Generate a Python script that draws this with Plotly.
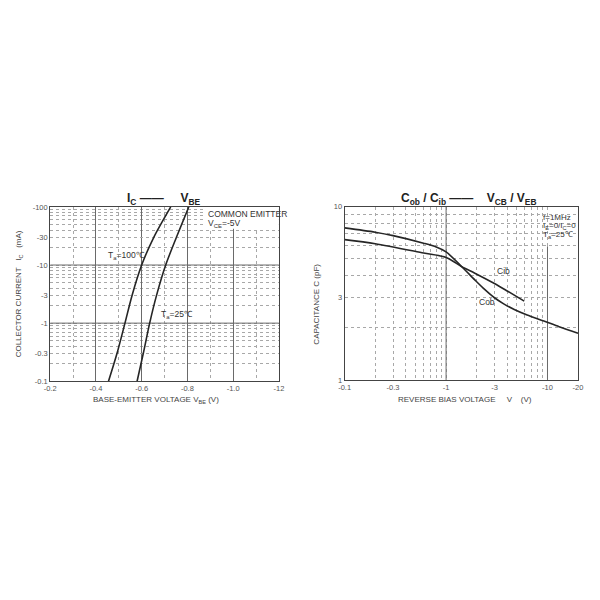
import plotly.graph_objects as go

# ---------------- data: left chart (Ic vs Vbe) ----------------
ic_ma = [0.1, 0.3, 1, 3, 10, 30, 100]                       # |Ic| in mA
vbe_ta100 = [-0.455, -0.492, -0.527, -0.558, -0.600, -0.653, -0.727]
vbe_ta25 = [-0.580, -0.607, -0.635, -0.665, -0.705, -0.752, -0.806]
vbe_ticks = [-0.2, -0.4, -0.6, -0.8, -1.0, -1.2]
vbe_ticklabels = ["-0.2", "-0.4", "-0.6", "-0.8", "-1.0", "-12"]
ic_ticks = [0.1, 0.3, 1, 3, 10, 30, 100]
ic_ticklabels = ["-0.1", "-0.3", "-1", "-3", "-10", "-30", "-100"]

# ---------------- data: right chart (Cob/Cib vs V) ----------------
vr_cob = [0.1, 0.2, 0.3, 0.6, 0.8, 1.0, 1.43, 1.92, 2.4, 3.0, 3.7, 4.7, 6.3, 9.2, 13, 20]
cob_pf = [7.54, 7.12, 6.8, 6.15, 5.85, 5.48, 4.5, 3.78, 3.33, 2.98, 2.75, 2.55, 2.37,
          2.19, 2.03, 1.86]
vr_cib = [0.1, 0.2, 0.6, 1.0, 1.43, 1.92, 3.0, 4.05, 5.9]
cib_pf = [6.45, 6.11, 5.4, 5.09, 4.5, 4.13, 3.6, 3.25, 2.85]
vr_ticks = [0.1, 0.3, 1, 3, 10, 20]
vr_ticklabels = ["-0.1", "-0.3", "-1", "-3", "-10", "-20"]
c_ticks = [1, 3, 10]
c_ticklabels = ["1", "3", "10"]

FONT = "Liberation Sans, Arial, sans-serif"
W = H = 600


def px(x, y):
    return x / W, 1 - y / H


LINE = "#262626"
SOLID = "#6a6a6a"
DOT = "#a8a8a8"

fig = go.Figure()

# ---- left chart: white area behind the legend text, solid grid lines ----
fig.add_trace(go.Scatter(x=[-0.87, -1.2, -1.2, -0.87], y=[42, 42, 100, 100],
                         fill="toself", fillcolor="white", mode="none",
                         hoverinfo="skip", showlegend=False, xaxis="x", yaxis="y"))
for yv in [1, 10]:
    fig.add_trace(go.Scatter(x=[vbe_ticks[0], vbe_ticks[-1]], y=[yv, yv], mode="lines",
                             line=dict(color=SOLID, width=1), hoverinfo="skip",
                             showlegend=False, xaxis="x", yaxis="y"))
fig.add_trace(go.Scatter(x=vbe_ta100, y=ic_ma, mode="lines",
                         line=dict(color=LINE, width=1.6, shape="spline", smoothing=0.8),
                         showlegend=False, xaxis="x", yaxis="y"))
fig.add_trace(go.Scatter(x=vbe_ta25, y=ic_ma, mode="lines",
                         line=dict(color=LINE, width=1.6, shape="spline", smoothing=0.8),
                         showlegend=False, xaxis="x", yaxis="y"))

# ---- right chart: solid grid lines ----
fig.add_trace(go.Scatter(x=[1, 1], y=[1, 10], mode="lines",
                         line=dict(color=SOLID, width=1), hoverinfo="skip",
                         showlegend=False, xaxis="x2", yaxis="y2"))
fig.add_trace(go.Scatter(x=[10, 10], y=[1, 5.9], mode="lines",
                         line=dict(color=SOLID, width=1), hoverinfo="skip",
                         showlegend=False, xaxis="x2", yaxis="y2"))
fig.add_trace(go.Scatter(x=vr_cob, y=cob_pf, mode="lines",
                         line=dict(color=LINE, width=1.6, shape="spline", smoothing=0.8),
                         showlegend=False, xaxis="x2", yaxis="y2"))
fig.add_trace(go.Scatter(x=vr_cib, y=cib_pf, mode="lines",
                         line=dict(color=LINE, width=1.6, shape="spline", smoothing=0.8),
                         showlegend=False, xaxis="x2", yaxis="y2"))

tickfont = dict(family=FONT, size=7.5, color="#555")
axline = dict(showline=True, mirror=True, linecolor="#444", linewidth=1,
              ticks="", zeroline=False, tickfont=tickfont)

x1d = (45 / W, 278 / W)
y1d = (1 - 383 / H, 1 - 206 / H)
x2d = (345 / W, 582.7 / W)
y2d = (1 - 381.7 / H, 1 - 205.7 / H)

fig.update_layout(
    width=W, height=H, margin=dict(l=0, r=0, t=0, b=0),
    paper_bgcolor="white", plot_bgcolor="white",
    xaxis=dict(domain=x1d, anchor="y", range=[-0.2, -1.2],
               tickmode="array", tickvals=vbe_ticks, ticktext=vbe_ticklabels,
               showgrid=True, gridcolor=SOLID, gridwidth=1,
               minor=dict(dtick=0.1, tick0=0, showgrid=True, griddash="dot",
                          gridcolor=DOT, gridwidth=1, ticks=""),
               **axline),
    yaxis=dict(domain=y1d, anchor="x", type="log", range=[-1, 2],
               tickmode="array", tickvals=ic_ticks, ticktext=ic_ticklabels,
               showgrid=True, griddash="dot", gridcolor=DOT, gridwidth=1,
               minor=dict(dtick="D1", showgrid=True, griddash="dot",
                          gridcolor=DOT, gridwidth=1, ticks=""),
               **axline),
    xaxis2=dict(domain=x2d, anchor="y2", type="log", range=[-1, 1.30103],
                tickmode="array", tickvals=vr_ticks, ticktext=vr_ticklabels,
                showgrid=True, griddash="dot", gridcolor=DOT, gridwidth=1,
                minor=dict(dtick="D1", showgrid=True, griddash="dot",
                           gridcolor=DOT, gridwidth=1, ticks=""),
                **axline),
    yaxis2=dict(domain=y2d, anchor="x2", type="log", range=[0, 1],
                tickmode="array", tickvals=c_ticks, ticktext=c_ticklabels,
                showgrid=True, griddash="dot", gridcolor=DOT, gridwidth=1,
                minor=dict(dtick="D1", showgrid=True, griddash="dot",
                           gridcolor=DOT, gridwidth=1, ticks=""),
                **axline),
)

ann = []


def add_text(text, x, y, size=8, color="#333", xanchor="center", yanchor="middle",
             angle=0, bold=False):
    xp, yp = px(x, y)
    if bold:
        text = "<b>" + text + "</b>"
    ann.append(dict(text=text, x=xp, y=yp, xref="paper", yref="paper",
                    showarrow=False, xanchor=xanchor, yanchor=yanchor,
                    textangle=angle, font=dict(family=FONT, size=size, color=color)))


# left chart texts
add_text("I<sub>C</sub> —— &nbsp;&nbsp;&nbsp; V<sub>BE</sub>", 160, 198, size=12,
         color="#222", bold=True)
add_text("COMMON EMITTER", 204, 213.5, size=8.5, xanchor="left")
add_text("V<sub>CE</sub>=-5V", 204, 223, size=8.5, xanchor="left")
add_text("T<sub>a</sub>=100℃", 102, 255, size=8.5, xanchor="left")
add_text("T<sub>a</sub>=25℃", 156, 315, size=8.5, xanchor="left")
add_text("COLLECTOR CURRENT &nbsp; I<sub>C</sub> &nbsp; (mA)", 13, 294, size=8,
         color="#444", angle=-90)
add_text("BASE-EMITTER VOLTAGE V<sub>BE</sub> (V)", 153, 402, size=8, color="#444")

# right chart texts
add_text("C<sub>ob</sub> / C<sub>ib</sub> —— &nbsp;&nbsp; V<sub>CB</sub> / V<sub>EB</sub>",
         471, 198, size=12, color="#222", bold=True)
add_text("f=1MHz", 545, 216.5, size=8, xanchor="left")
add_text("I<sub>E</sub>=0/I<sub>C</sub>=0", 545, 225.5, size=8, xanchor="left")
add_text("T<sub>a</sub>=25℃", 545, 234.5, size=8, xanchor="left")
add_text("Cib", 507, 271, size=8.5)
add_text("Cob", 490, 303, size=8.5)
add_text("CAPACITANCE C (pF)", 316, 305, size=8, color="#444", angle=-90)
add_text("REVERSE BIAS VOLTAGE &nbsp;&nbsp;&nbsp; V &nbsp;&nbsp; (V)", 468, 402, size=8,
         color="#444")

fig.update_layout(annotations=ann)
fig.write_html("out.html", config={"displayModeBar": False},
               post_script="document.body.style.margin='0';document.body.style.padding='0';")
